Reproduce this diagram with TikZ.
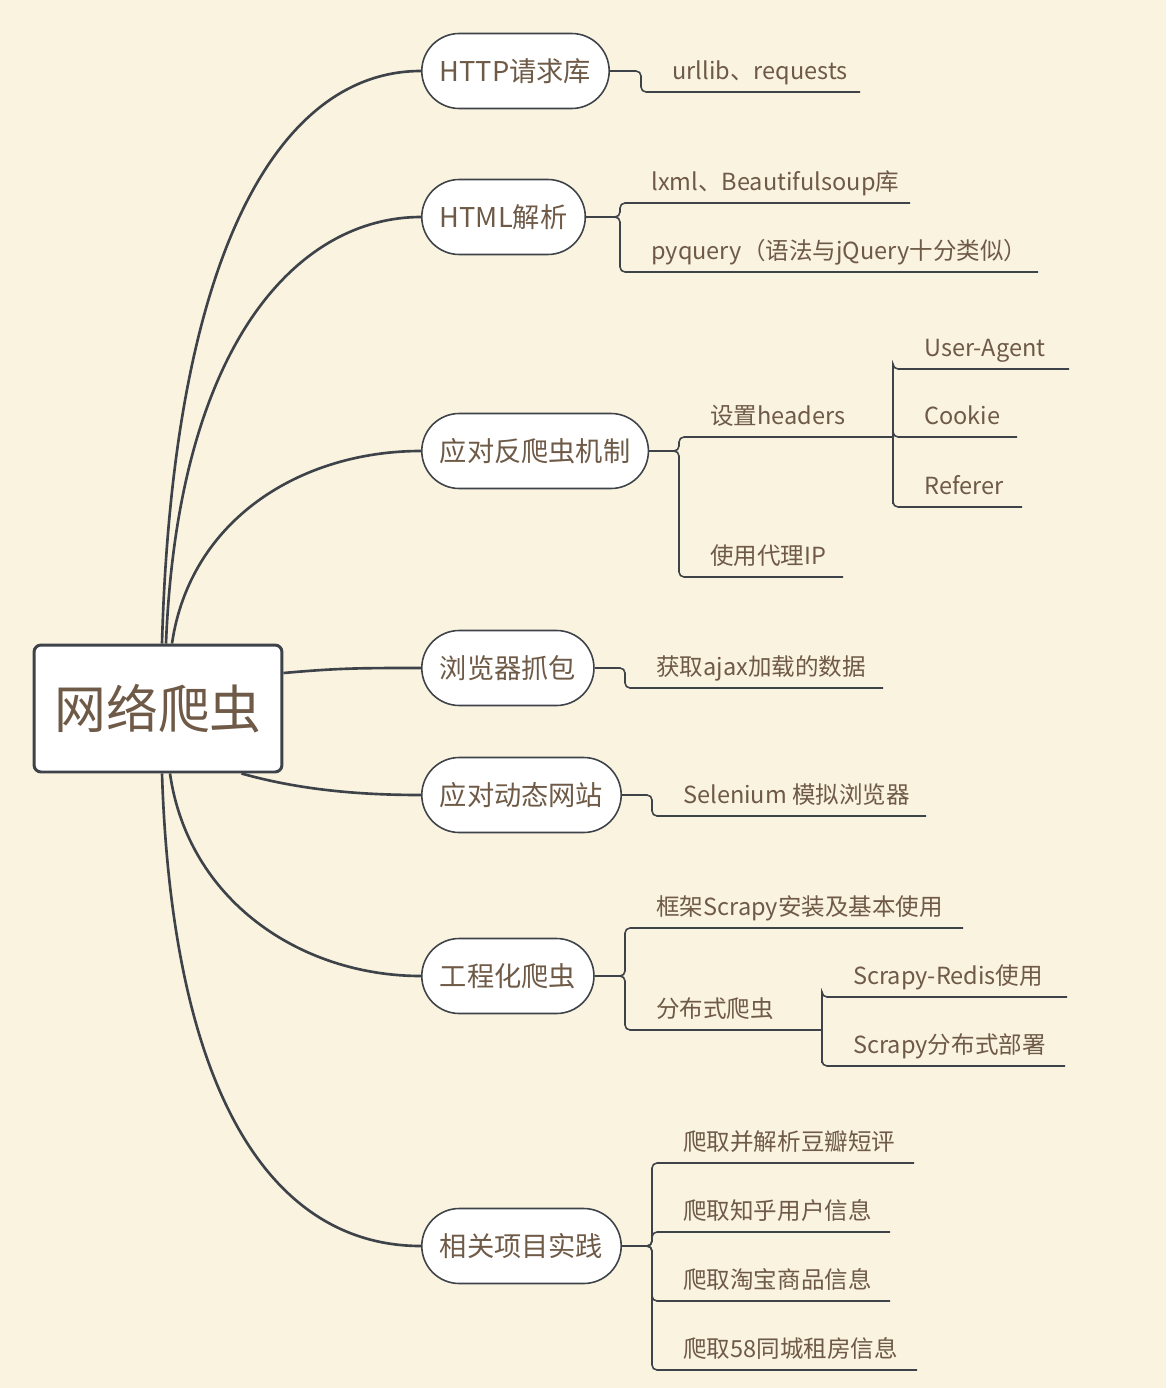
\documentclass[tikz,border=0pt]{standalone}
\usepackage{fontspec}
\setmainfont{Noto Sans CJK SC}
\usepackage{xcolor}
\definecolor{paper}{RGB}{250,243,224}
\definecolor{ink}{RGB}{110,90,70}
\definecolor{wire}{RGB}{62,67,74}
\tikzstyle{root}=[draw=wire,fill=white,line width=1.7pt,rounded corners=4pt,minimum width=4.96cm,minimum height=2.54cm,text=ink,font=\fontsize{29.5}{33}\selectfont]
\tikzstyle{topic}=[draw=wire,fill=white,line width=.9pt,rounded corners=.75cm,minimum height=1.5cm,inner xsep=.36cm,anchor=west,text=ink,font=\fontsize{15.5}{18}\selectfont]
\tikzstyle{leaf}=[anchor=south west,inner xsep=.62cm,inner ysep=0pt,text depth=2.5mm,text=ink,font=\fontsize{13.4}{16}\selectfont]
\tikzstyle{trunk}=[draw=wire,line width=1.5pt]
\tikzstyle{twig}=[draw=wire,line width=.9pt,rounded corners=1mm]

\begin{document}
\begin{tikzpicture}[x=.02cm,y=-.02cm]
	\fill[paper] (0,0) rectangle (1166,1388);
	\node[root] (root) at (158,708.5) {网络爬虫};
	% first level
	\node[topic] (http) at (421,71)   {HTTP请求库};
	\node[topic] (html) at (421,217)  {HTML解析};
	\node[topic] (anti) at (421,451)  {应对反爬虫机制};
	\node[topic] (cap)  at (421,668)  {浏览器抓包};
	\node[topic] (dyn)  at (421,795)  {应对动态网站};
	\node[topic] (eng)  at (421,976)  {工程化爬虫};
	\node[topic] (proj) at (421,1246) {相关项目实践};
	\draw[trunk] ([xshift=.08cm]root.north) .. controls (173,250) and (280,71) .. (http.west);
	\draw[trunk] ([xshift=.16cm]root.north) .. controls (178,340) and (300,217) .. (html.west);
	\draw[trunk] ([xshift=.28cm]root.north) .. controls (190,520) and (300,451) .. (anti.west);
	\draw[trunk] ([yshift=.71cm]root.east) .. controls (340,668) and (360,668) .. (cap.west);
	\draw[trunk] ([xshift=-.84cm]root.south east) .. controls (300,790) and (360,795) .. (dyn.west);
	\draw[trunk] ([xshift=.24cm]root.south) .. controls (188,900) and (300,976) .. (eng.west);
	\draw[trunk] ([xshift=.08cm]root.south) .. controls (173,1110) and (280,1246) .. (proj.west);
	% leaves
	\node[leaf] (urllib) at (641,92)  {urllib、requests};
	\node[leaf] (lxml)   at (620,203) {lxml、Beautifulsoup库};
	\node[leaf] (pyq)    at (620,272) {pyquery（语法与jQuery十分类似）};
	\node[leaf] (hdr)    at (679,437) {设置headers};
	\node[leaf] (ip)     at (679,577) {使用代理IP};
	\node[leaf] (ua)     at (893,369) {User-Agent};
	\node[leaf] (ck)     at (893,437) {Cookie};
	\node[leaf] (ref)    at (893,507) {Referer};
	\node[leaf] (ajax)   at (625,688) {获取ajax加载的数据};
	\node[leaf] (sel)    at (652,816) {Selenium 模拟浏览器};
	\node[leaf] (frm)    at (625,928) {框架Scrapy安装及基本使用};
	\node[leaf] (dist)   at (625,1030) {分布式爬虫};
	\node[leaf] (redis)  at (822,997)  {Scrapy-Redis使用};
	\node[leaf] (deploy) at (822,1066) {Scrapy分布式部署};
	\node[leaf] (p1)     at (652,1163) {爬取并解析豆瓣短评};
	\node[leaf] (p2)     at (652,1232) {爬取知乎用户信息};
	\node[leaf] (p3)     at (652,1301) {爬取淘宝商品信息};
	\node[leaf] (p4)     at (652,1370) {爬取58同城租房信息};
	\draw[twig] (http.east) -| (urllib.south west) -- +(219,0);
	\draw[twig] (html.east) -| (lxml.south west) -- +(290,0);
	\draw[twig] (html.east) -| (pyq.south west) -- +(418,0);
	\draw[twig] (anti.east) -| (hdr.south west) -- +(214,0) coordinate (hj);
	\draw[twig] (anti.east) -| (ip.south west) -- +(164,0);
	\draw[twig] (hj) |- (ua.south west) -- +(176,0);
	\draw[twig] (hj) -- (ck.south west) -- +(124,0);
	\draw[twig] (hj) |- (ref.south west) -- +(129,0);
	\draw[twig] (cap.east) -| (ajax.south west) -- +(258,0);
	\draw[twig] (dyn.east) -| (sel.south west) -- +(274,0);
	\draw[twig] (eng.east) -| (frm.south west) -- +(338,0);
	\draw[twig] (eng.east) -| (dist.south west) -- +(197,0) coordinate (dj);
	\draw[twig] (dj) |- (redis.south west) -- +(245,0);
	\draw[twig] (dj) |- (deploy.south west) -- +(243,0);
	\draw[twig] (proj.east) -| (p1.south west) -- +(262,0);
	\draw[twig] (proj.east) -| (p2.south west) -- +(238,0);
	\draw[twig] (proj.east) -| (p3.south west) -- +(238,0);
	\draw[twig] (proj.east) -| (p4.south west) -- +(265,0);
\end{tikzpicture}
\end{document}
